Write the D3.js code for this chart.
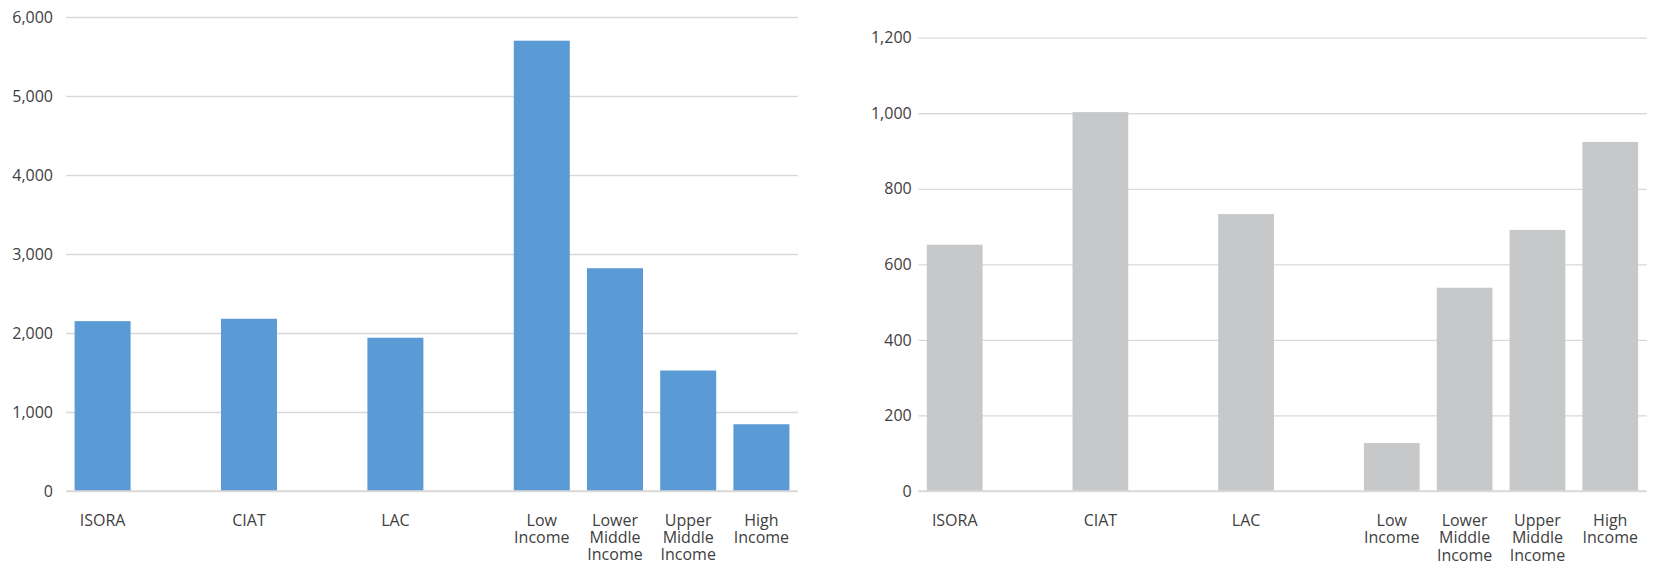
<!DOCTYPE html>
<html>
<head>
<meta charset="utf-8">
<script src="https://cdn.jsdelivr.net/npm/d3@7"></script>
<style>
  html, body { margin: 0; padding: 0; background: #ffffff; }
  svg { display: block; }
  text { font-family: "Open Sans", sans-serif; }
</style>
</head>
<body>
<svg id="chart" width="1654" height="564"></svg>
<script>
// Category slots (null = empty spacer slot)
const categories = ["ISORA", null, "CIAT", null, "LAC", null, "Low Income", "Lower Middle Income", "Upper Middle Income", "High Income"];
const leftValues  = [2150, null, 2180, null, 1940, null, 5700, 2820, 1525, 845];
const rightValues = [652, null, 1003, null, 733, null, 127, 538, 691, 924];
const leftTicks  = [0, 1000, 2000, 3000, 4000, 5000, 6000];
const rightTicks = [0, 200, 400, 600, 800, 1000, 1200];

const svg = d3.select("#chart");
const fmt = d3.format(",");

function drawPanel(cfg) {
  const g = svg.append("g");
  const x = d3.scaleBand()
    .domain(d3.range(categories.length))
    .range([cfg.x0, cfg.x1])
    .paddingInner(0.235)
    .paddingOuter(0.1175);
  const y = d3.scaleLinear().domain(cfg.domain).range([cfg.yBottom, cfg.yTop]);

  // gridlines + y labels
  const yAxis = d3.axisLeft(y)
    .tickValues(cfg.ticks)
    .tickFormat(fmt)
    .tickSize(-(cfg.x1 - cfg.x0))
    .tickPadding(cfg.labelGap);
  const ya = g.append("g")
    .attr("transform", `translate(${cfg.x0},0)`)
    .call(yAxis);
  ya.select(".domain").remove();
  ya.selectAll(".tick line").attr("stroke", "#d9d9d9").attr("stroke-width", 1.3);
  ya.selectAll(".tick text")
    .attr("fill", "#404040")
    .style("font-size", "16px")
    .style("font-family", "'Open Sans', sans-serif");

  // bars
  const data = categories.map((c, i) => ({ i, c, v: cfg.values[i] })).filter(d => d.c !== null && d.v !== null);
  g.append("g").selectAll("rect")
    .data(data)
    .join("rect")
    .attr("x", d => x(d.i))
    .attr("width", x.bandwidth())
    .attr("y", d => y(d.v))
    .attr("height", d => y(0) - y(d.v))
    .attr("fill", cfg.color);

  // baseline redrawn on top
  g.append("line")
    .attr("x1", cfg.x0).attr("x2", cfg.x1)
    .attr("y1", y(0)).attr("y2", y(0))
    .attr("stroke", "#d9d9d9").attr("stroke-width", 1.3);

  // category labels: one text element per word line
  const lines = [];
  data.forEach(d => {
    d.c.split(" ").forEach((w, k) => lines.push({ i: d.i, w, k }));
  });
  g.append("g").selectAll("text")
    .data(lines)
    .join("text")
    .attr("text-anchor", "middle")
    .attr("fill", "#404040")
    .style("font-size", "16px")
    .attr("x", d => x(d.i) + x.bandwidth() / 2)
    .attr("y", d => cfg.labelY + d.k * 17.3)
    .text(d => d.w);
}

drawPanel({
  x0: 66, x1: 798, yBottom: 491, yTop: 17,
  domain: [0, 6000], ticks: leftTicks, values: leftValues,
  color: "#5b9bd5", labelGap: 13, labelY: 525.5
});

drawPanel({
  x0: 918.3, x1: 1646.7, yBottom: 491, yTop: 37.7,
  domain: [0, 1200], ticks: rightTicks, values: rightValues,
  color: "#c7c8ca", labelGap: 6.6, labelY: 526
});
</script>
</body>
</html>
